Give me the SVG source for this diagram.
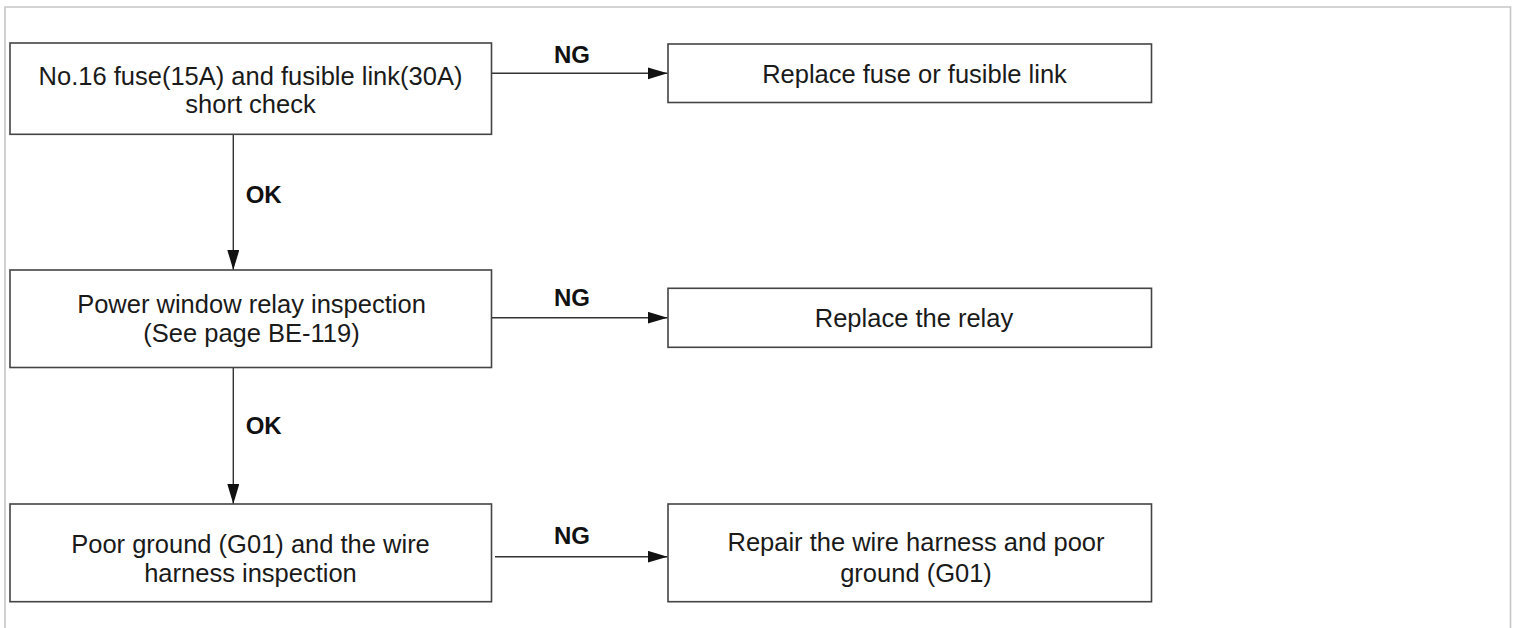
<svg xmlns="http://www.w3.org/2000/svg" width="1515" height="628" viewBox="0 0 1515 628">
<style>
.frame{fill:none;stroke:#c6c6c6;stroke-width:1.6}
.box{fill:#fff;stroke:#444;stroke-width:1.6}
.t{font-family:"Liberation Sans",Arial,sans-serif;font-size:25.5px;fill:#1a1a1a;text-anchor:middle}
.lbl{font-family:"Liberation Sans",Arial,sans-serif;font-size:24px;font-weight:bold;fill:#111}
.c{fill:none;stroke:#333;stroke-width:1.4}
</style>
<defs>
<marker id="ah" markerUnits="userSpaceOnUse" markerWidth="22" markerHeight="14" refX="20" refY="6" orient="auto">
<path d="M0,0 L20,6 L0,12 z" fill="#111"/>
</marker>
</defs>
<rect width="1515" height="628" fill="#fff"/>
<path class="frame" d="M5,628 V7 H1510.5 V628"/>
<g id="connectors">
<path class="c" d="M491.5,73.3 H667.5" marker-end="url(#ah)"/>
<path class="c" d="M491.5,317.7 H667.5" marker-end="url(#ah)"/>
<path class="c" d="M495,556.7 H667.5" marker-end="url(#ah)"/>
<path class="c" d="M233.3,134.3 V270" marker-end="url(#ah)"/>
<path class="c" d="M233.3,367.5 V504" marker-end="url(#ah)"/>
<text class="lbl" x="572" y="63" text-anchor="middle">NG</text>
<text class="lbl" x="572" y="306" text-anchor="middle">NG</text>
<text class="lbl" x="572" y="544" text-anchor="middle">NG</text>
<text class="lbl" x="245.7" y="202.7">OK</text>
<text class="lbl" x="245.7" y="434">OK</text>
</g>
<g id="n1">
<rect class="box" x="10" y="43" width="481.5" height="91.3"/>
<text class="t" x="250.5" y="85">No.16 fuse(15A) and fusible link(30A)</text>
<text class="t" x="250.5" y="113">short check</text>
</g>
<g id="n2">
<rect class="box" x="668" y="44" width="483.5" height="58.5"/>
<text class="t" x="914.5" y="83">Replace fuse or fusible link</text>
</g>
<g id="n3">
<rect class="box" x="10" y="270" width="481.5" height="97.5"/>
<text class="t" x="251.5" y="312.7">Power window relay inspection</text>
<text class="t" x="251.5" y="341.5">(See page BE-119)</text>
</g>
<g id="n4">
<rect class="box" x="668" y="288.3" width="483.5" height="59"/>
<text class="t" x="914" y="327">Replace the relay</text>
</g>
<g id="n5">
<rect class="box" x="10" y="504" width="481.5" height="97.7"/>
<text class="t" x="250.5" y="552.7">Poor ground (G01) and the wire</text>
<text class="t" x="250.5" y="581.7">harness inspection</text>
</g>
<g id="n6">
<rect class="box" x="668" y="504" width="483.5" height="97.7"/>
<text class="t" x="916" y="550.5">Repair the wire harness and poor</text>
<text class="t" x="916" y="581.5">ground (G01)</text>
</g>
</svg>
